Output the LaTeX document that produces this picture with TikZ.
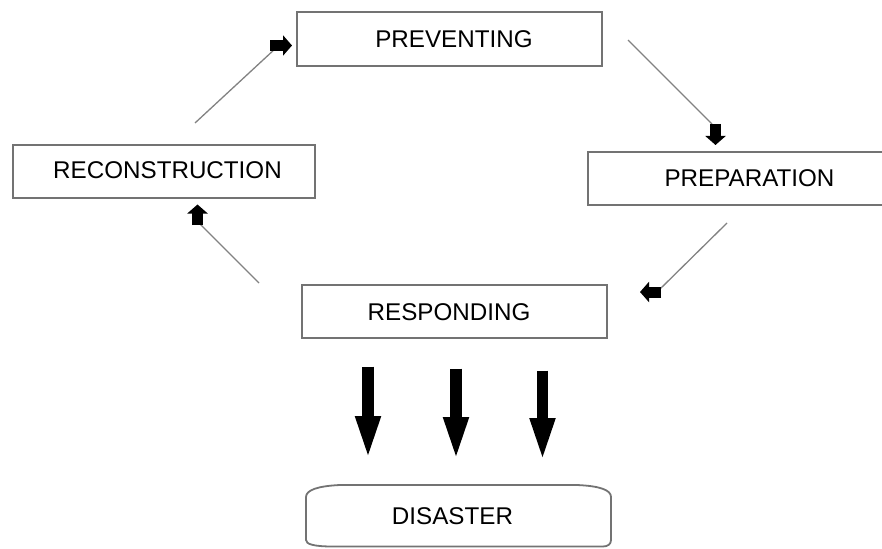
\documentclass[tikz,border=0pt]{standalone}
\usepackage{fontspec}
\setmainfont{Liberation Sans}
\usetikzlibrary{arrows.meta}
\definecolor{boxgray}{RGB}{115,115,115}
\definecolor{linegray}{RGB}{130,130,130}
\begin{document}
\begin{tikzpicture}[x=1pt,y=-1pt,
  box/.style={draw=boxgray,line width=1.8pt,minimum width=#1,minimum height=53pt,inner sep=0pt,outer sep=0pt},
  lbl/.style={font=\fontsize{24.2}{28}\selectfont,inner sep=0pt},
  conn/.style={draw=linegray,line width=1.3pt},
  stubhead/.style={draw=black,line width=11pt,-{Triangle[length=9pt,width=20pt]}},
  bigarrow/.style={draw=black,line width=11.5pt,-{Triangle[length=46pt,width=22pt]}}]
\useasboundingbox (0,0) rectangle (882,548);
\clip (0,0) rectangle (882,548);

% boxes
\node[box=305pt,minimum height=54pt] (prev) at (449.5,39) {};
\node[box=302pt] (recon) at (164,171.5) {};
\node[box=305pt] (prep) at (740.5,178.5) {};
\node[box=305pt] (resp) at (454.5,311.5) {};

% disaster outline
\draw[draw=boxgray,line width=1.8pt]
  (340,485) -- (577,485) .. controls (600,486) and (611,490) .. (611,497)
  -- (611,540) .. controls (611,544) and (608,546.5) .. (603,546.5)
  -- (333,546.5) .. controls (313,546.5) and (306,544) .. (306,540)
  -- (306,497) .. controls (306,490) and (318,486) .. (340,485) -- cycle;

% labels
\node[lbl] (tprev) at (454,39) {PREVENTING};
\node[lbl] (trecon) at (167.5,170) {RECONSTRUCTION};
\node[lbl] (tprep) at (749.5,178) {PREPARATION};
\node[lbl] (tresp) at (449,312.5) {RESPONDING};
\node[lbl] (tdis) at (452.5,516) {DISASTER};

% connector coordinates
\coordinate (c1s) at (195,123);  \coordinate (c1e) at (276,48);
\coordinate (h1s) at (270,45.5); \coordinate (h1e) at (292,45.5);
\coordinate (c2s) at (628,40);   \coordinate (c2e) at (712,124);
\coordinate (h2s) at (715.5,124); \coordinate (h2e) at (715.5,145);
\coordinate (c3s) at (727,223);  \coordinate (c3e) at (658,291);
\coordinate (h3s) at (661,292);  \coordinate (h3e) at (640,292);
\coordinate (c4s) at (259,283);  \coordinate (c4e) at (199,223);
\coordinate (h4s) at (197.5,225); \coordinate (h4e) at (197.5,204.5);

\draw[conn] (c1s) -- (c1e);
\draw[stubhead] (h1s) -- (h1e);
\draw[conn] (c2s) -- (c2e);
\draw[stubhead] (h2s) -- (h2e);
\draw[conn] (c3s) -- (c3e);
\draw[stubhead] (h3s) -- (h3e);
\draw[conn] (c4s) -- (c4e);
\draw[stubhead] (h4s) -- (h4e);

% big arrows
\coordinate (b1s) at (368,366.5);   \coordinate (b1e) at (368,462);
\coordinate (b2s) at (456,368.5);   \coordinate (b2e) at (456,463);
\coordinate (b3s) at (542.5,370.5); \coordinate (b3e) at (542.5,464);
\draw[bigarrow] (b1s) -- (b1e);
\draw[bigarrow] (b2s) -- (b2e);
\draw[bigarrow] (b3s) -- (b3e);
\end{tikzpicture}
\end{document}
